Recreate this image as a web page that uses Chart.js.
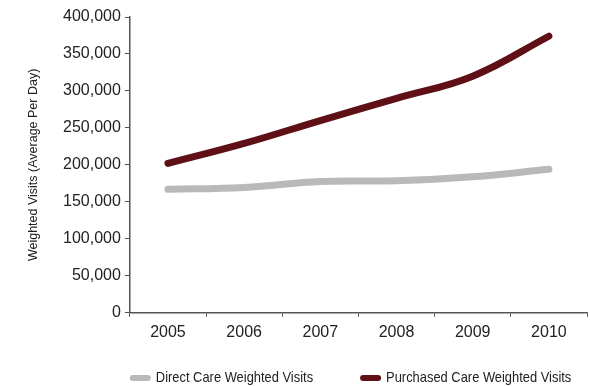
<!DOCTYPE html>
<html>
<head>
<meta charset="utf-8">
<script src="https://cdn.jsdelivr.net/npm/chart.js@4/dist/chart.umd.min.js"></script>
<style>
  html, body { margin: 0; padding: 0; background: #fff; }
  #wrap { width: 590px; height: 386px; position: relative; }
</style>
</head>
<body>
<div id="wrap"><canvas id="chart"></canvas></div>
<script>
// --- Datos ---
const years = ["2005", "2006", "2007", "2008", "2009", "2010"];
const directCare = [167000, 169500, 177500, 178500, 184000, 194000];
const purchasedCare = [202000, 229000, 260000, 290000, 320000, 374000];

const directLabel = "Direct Care Weighted Visits";
const purchasedLabel = "Purchased Care Weighted Visits";
const yTitle = "Weighted Visits (Average Per Day)";

const sansFont = '"Liberation Sans", Arial, sans-serif';

// --- Leyenda propia: trazo redondeado + texto estrecho, debajo del eje ---
const bottomLegend = {
  id: "bottomLegend",
  afterDraw(chart) {
    const ctx = chart.ctx;
    const y = 378;
    const squeeze = 0.86;
    let x = chart.chartArea.left;
    ctx.save();
    ctx.font = "15px " + sansFont;
    ctx.textBaseline = "middle";
    ctx.textAlign = "left";
    chart.data.datasets.forEach(ds => {
      ctx.strokeStyle = ds.borderColor;
      ctx.lineWidth = 6;
      ctx.lineCap = "round";
      ctx.beginPath();
      ctx.moveTo(x + 3, y);
      ctx.lineTo(x + 18, y);
      ctx.stroke();
      ctx.fillStyle = "#222";
      ctx.save();
      ctx.translate(x + 26, y);
      ctx.scale(squeeze, 1);
      ctx.fillText(ds.label, 0, 0);
      ctx.restore();
      x += 26 + ctx.measureText(ds.label).width * squeeze + 47;
    });
    ctx.restore();
  }
};

const ctx = document.getElementById("chart").getContext("2d");
new Chart(ctx, {
  type: "line",
  data: {
    labels: years,
    datasets: [
      {
        label: directLabel,
        data: directCare,
        borderColor: "#b8b9b8",
        backgroundColor: "#b8b9b8",
        borderWidth: 7,
        borderCapStyle: "round",
        pointRadius: 0,
        tension: 0.4,
        fill: false
      },
      {
        label: purchasedLabel,
        data: purchasedCare,
        borderColor: "#5f1016",
        backgroundColor: "#5f1016",
        borderWidth: 7,
        borderCapStyle: "round",
        pointRadius: 0,
        tension: 0.4,
        fill: false
      }
    ]
  },
  options: {
    responsive: true,
    maintainAspectRatio: false,
    animation: false,
    layout: { padding: { top: 17, right: 3, bottom: 38, left: 26 } },
    plugins: {
      legend: { display: false },
      tooltip: { enabled: false }
    },
    scales: {
      x: {
        offset: true,
        grid: {
          offset: true,
          drawOnChartArea: false,
          tickLength: 4,
          tickColor: "#555"
        },
        border: { color: "#555", width: 1.5 },
        ticks: { color: "#222", font: { family: sansFont, size: 16 }, padding: 6 }
      },
      y: {
        min: 0,
        max: 400000,
        grid: {
          drawOnChartArea: false,
          tickLength: 5,
          tickColor: "#555"
        },
        border: { color: "#555", width: 1.5 },
        ticks: {
          stepSize: 50000,
          color: "#222",
          padding: 4,
          font: { family: sansFont, size: 16 },
          callback: v => v.toLocaleString("en-US")
        },
        title: {
          display: true,
          text: yTitle,
          color: "#222",
          font: { family: sansFont, size: 12.5 },
          padding: { top: 0, bottom: 18 }
        }
      }
    }
  },
  plugins: [bottomLegend]
});
</script>
</body>
</html>
